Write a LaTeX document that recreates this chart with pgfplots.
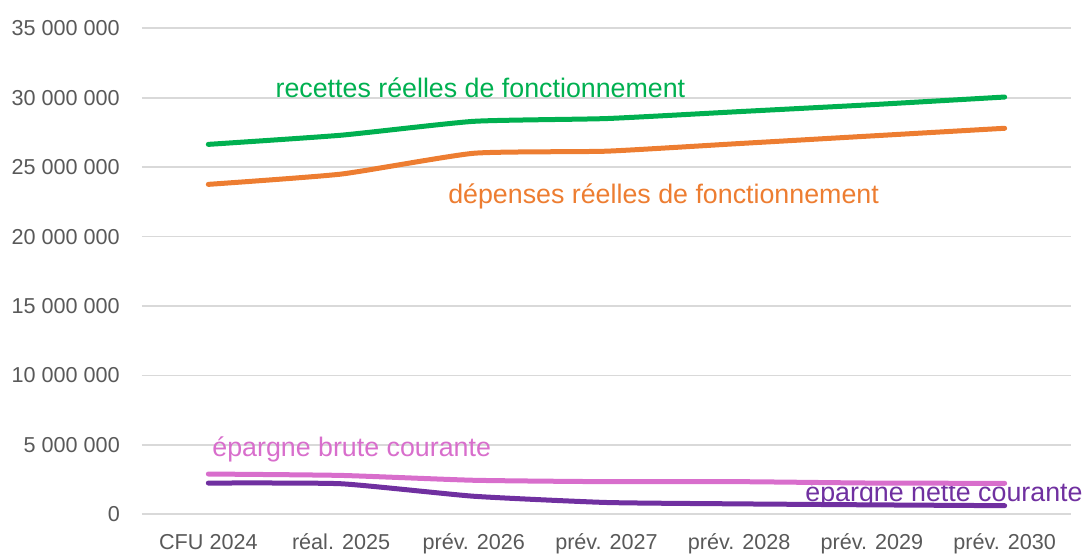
\documentclass[border=0pt]{standalone}
\usepackage{pgfplots}
\pgfplotsset{compat=1.18}
\usepackage{fontspec}
\setmainfont{Liberation Sans}
\definecolor{cgreen}{HTML}{00B050}
\definecolor{corange}{HTML}{ED7D31}
\definecolor{cpink}{HTML}{D86ECC}
\definecolor{cpurple}{HTML}{7030A0}
\definecolor{cgrid}{HTML}{D9D9D9}
\definecolor{ctick}{HTML}{595959}
\begin{document}
\begin{tikzpicture}
\begin{axis}[
  at={(0,0)}, anchor=south west,
  scale only axis, width=929pt, height=486pt,
  xmin=-0.5, xmax=6.5, ymin=0, ymax=35000000,
  axis line style={draw=none},
  xtick={0,1,2,3,4,5,6},
  xticklabels={CFU 2024, réal. 2025, prév. 2026, prév. 2027, prév. 2028, prév. 2029, prév. 2030},
  ytick={0,5000000,10000000,15000000,20000000,25000000,30000000,35000000},
  yticklabels={0, 5 000 000, 10 000 000, 15 000 000, 20 000 000, 25 000 000, 30 000 000, 35 000 000},
  scaled y ticks=false,
  ymajorgrids, grid style={cgrid, line width=1.6pt},
  major tick length=0pt,
  tick label style={font=\fontsize{21.6}{25}\selectfont, text=ctick, inner sep=0pt},
  yticklabel style={anchor=east, xshift=-22pt},
  xticklabel style={anchor=base, yshift=-35pt},
  clip=false,
]
\node[cgreen, font=\fontsize{26.8}{30}\selectfont, anchor=base, inner sep=0pt] at (axis cs:2.05,30000000) {recettes réelles de fonctionnement};
\node[corange, font=\fontsize{26.8}{30}\selectfont, anchor=base, inner sep=0pt] at (axis cs:3.43,22400000) {dépenses réelles de fonctionnement};
\node[cpink, font=\fontsize{26.8}{30}\selectfont, anchor=base, inner sep=0pt] at (axis cs:1.08,4130000) {épargne brute courante};
\node[cpurple, font=\fontsize{26.8}{30}\selectfont, anchor=base, inner sep=0pt] at (axis cs:5.543,910000) {épargne nette courante};
\addplot[cgreen, line width=5pt, line cap=round, smooth, tension=0.3] coordinates {
  (0,26640000) (1,27300000) (2,28300000) (3,28500000) (4,29000000) (5,29500000) (6,30050000)};
\addplot[corange, line width=5pt, line cap=round, smooth, tension=0.3] coordinates {
  (0,23760000) (1,24500000) (2,26000000) (3,26150000) (4,26700000) (5,27250000) (6,27800000)};
\addplot[cpink, line width=5pt, line cap=round, smooth, tension=0.3] coordinates {
  (0,2900000) (1,2800000) (2,2450000) (3,2350000) (4,2350000) (5,2250000) (6,2230000)};
\addplot[cpurple, line width=5pt, line cap=round, smooth, tension=0.3] coordinates {
  (0,2250000) (1,2200000) (2,1300000) (3,850000) (4,750000) (5,680000) (6,620000)};
\end{axis}
\pgfresetboundingbox
\useasboundingbox (-142pt,-41.7pt) rectangle (941pt,514.3pt);
\end{tikzpicture}
\end{document}
